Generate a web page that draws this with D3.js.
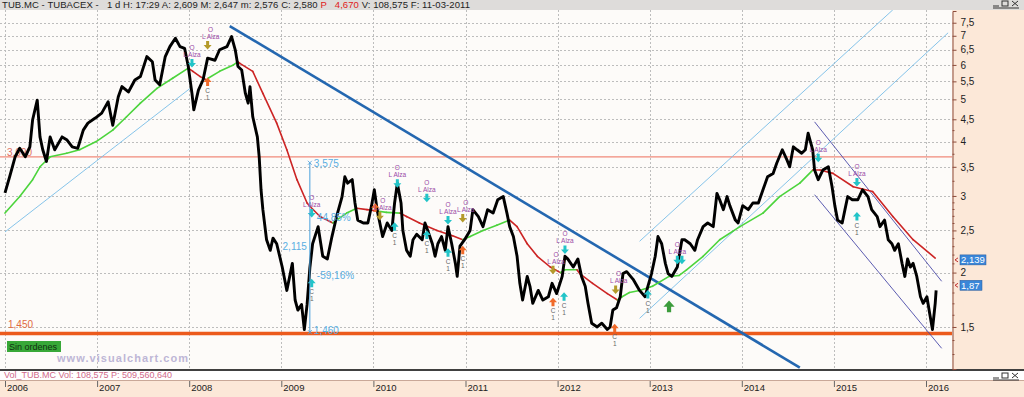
<!DOCTYPE html>
<html>
<head>
<meta charset="utf-8">
<script src="https://cdn.jsdelivr.net/npm/d3@7"></script>
<style>
body { margin: 0; background: #fff; overflow: hidden; }
text { font-family: "Liberation Sans", Arial, sans-serif; }
</style>
</head>
<body>
<script>
// TUBACEX daily chart, Visual Chart style

var W = 1024, H = 397;

var headerParts = ["TUB.MC - TUBACEX -   1 d H: 17:29 A: 2,609 M: 2,647 m: 2,576 C: 2,580 ", "P", "   4,670", " V: 108,575 F: 11-03-2011"];
var volText = "Vol_TUB.MC Vol: 108,575 P: 509,560,640";
var years = [2006, 2007, 2008, 2009, 2010, 2011, 2012, 2013, 2014, 2015, 2016];
var yTicks = [1.5, 2, 2.5, 3, 3.5, 4, 4.5, 5, 5.5, 6, 6.5, 7, 7.5];
var yMinor = [1.2, 1.3, 1.4, 1.6, 1.7, 1.8, 1.9, 2.1, 2.2, 2.3, 2.4, 2.6, 2.7, 2.8, 2.9, 3.25, 3.75, 4.25];

// [year, close]
var price = [
  [2006.00, 3.05], [2006.05, 3.32], [2006.11, 3.69], [2006.16, 3.86], [2006.22, 3.69], [2006.27, 3.89],
  [2006.30, 4.49], [2006.35, 4.98], [2006.38, 4.10], [2006.41, 3.83], [2006.45, 3.60], [2006.49, 4.10],
  [2006.54, 3.83], [2006.62, 4.10], [2006.67, 4.04], [2006.73, 3.89], [2006.79, 3.86], [2006.85, 4.25],
  [2006.90, 4.41], [2006.98, 4.53], [2007.05, 4.65], [2007.12, 4.94], [2007.17, 4.36], [2007.23, 5.07],
  [2007.27, 5.35], [2007.34, 5.20], [2007.41, 5.54], [2007.47, 5.64], [2007.54, 6.27], [2007.60, 6.10],
  [2007.63, 5.54], [2007.68, 5.40], [2007.74, 6.27], [2007.79, 6.61], [2007.85, 6.91], [2007.90, 6.61],
  [2007.95, 6.55], [2007.99, 5.95], [2008.03, 5.16], [2008.05, 4.73], [2008.10, 5.25], [2008.15, 5.54],
  [2008.20, 6.22], [2008.28, 6.15], [2008.33, 6.50], [2008.41, 6.61], [2008.46, 6.97], [2008.50, 6.50],
  [2008.53, 5.95], [2008.57, 5.84], [2008.61, 5.16], [2008.64, 4.90], [2008.66, 5.35], [2008.69, 4.56],
  [2008.74, 4.10], [2008.76, 3.69], [2008.78, 3.10], [2008.80, 2.79], [2008.84, 2.38], [2008.88, 2.25],
  [2008.91, 2.40], [2008.95, 2.33], [2009.01, 2.06], [2009.06, 1.82], [2009.12, 2.10], [2009.15, 1.73],
  [2009.18, 1.64], [2009.22, 1.69], [2009.25, 1.48], [2009.28, 1.69], [2009.31, 2.05], [2009.34, 2.33],
  [2009.40, 2.55], [2009.45, 2.18], [2009.50, 2.15], [2009.55, 2.42], [2009.60, 2.69], [2009.66, 2.99],
  [2009.69, 3.32], [2009.72, 3.21], [2009.77, 3.27], [2009.80, 2.89], [2009.83, 2.64], [2009.89, 2.60],
  [2009.94, 2.60], [2009.98, 2.85], [2010.01, 3.10], [2010.04, 2.79], [2010.07, 2.60], [2010.10, 2.42],
  [2010.15, 2.60], [2010.20, 2.50], [2010.23, 2.89], [2010.26, 3.21], [2010.30, 2.89], [2010.32, 2.50],
  [2010.36, 2.25], [2010.40, 2.18], [2010.43, 2.38], [2010.47, 2.45], [2010.53, 2.38], [2010.56, 2.60],
  [2010.59, 2.50], [2010.64, 2.33], [2010.67, 2.18], [2010.70, 2.33], [2010.74, 2.42], [2010.78, 2.25],
  [2010.81, 2.55], [2010.85, 2.33], [2010.89, 2.10], [2010.91, 1.96], [2010.94, 2.30], [2010.99, 2.38],
  [2011.05, 2.50], [2011.08, 2.79], [2011.14, 2.69], [2011.19, 2.55], [2011.24, 2.79], [2011.30, 2.74],
  [2011.35, 2.94], [2011.41, 2.99], [2011.45, 2.74], [2011.48, 2.55], [2011.52, 2.42], [2011.56, 2.18],
  [2011.59, 1.89], [2011.62, 1.73], [2011.67, 1.96], [2011.70, 1.86], [2011.73, 1.70], [2011.79, 1.82],
  [2011.84, 1.73], [2011.90, 1.76], [2011.94, 1.89], [2011.99, 1.79], [2012.05, 1.96], [2012.08, 2.18],
  [2012.11, 2.15], [2012.17, 2.06], [2012.22, 2.15], [2012.26, 1.96], [2012.30, 1.86], [2012.33, 1.70],
  [2012.37, 1.53], [2012.43, 1.50], [2012.48, 1.53], [2012.54, 1.48], [2012.57, 1.50], [2012.60, 1.64],
  [2012.64, 1.66], [2012.68, 1.76], [2012.71, 1.99], [2012.75, 2.01], [2012.82, 1.93], [2012.89, 1.82],
  [2012.95, 1.76], [2012.98, 1.86], [2013.02, 1.99], [2013.06, 2.18], [2013.09, 2.42], [2013.13, 2.33],
  [2013.17, 2.10], [2013.20, 1.99], [2013.24, 1.96], [2013.30, 2.06], [2013.35, 2.38], [2013.38, 2.38],
  [2013.44, 2.33], [2013.49, 2.25], [2013.52, 2.38], [2013.58, 2.55], [2013.63, 2.60], [2013.69, 2.55],
  [2013.73, 3.04], [2013.76, 2.94], [2013.80, 2.79], [2013.84, 2.99], [2013.87, 2.85], [2013.93, 2.64],
  [2013.96, 2.60], [2014.01, 2.85], [2014.07, 2.79], [2014.12, 2.89], [2014.18, 2.89], [2014.23, 3.10],
  [2014.28, 3.32], [2014.34, 3.38], [2014.38, 3.57], [2014.44, 3.83], [2014.49, 3.63], [2014.52, 3.50],
  [2014.56, 3.89], [2014.60, 3.83], [2014.65, 3.76], [2014.69, 3.83], [2014.72, 4.18], [2014.77, 3.83],
  [2014.79, 3.44], [2014.83, 3.27], [2014.88, 3.44], [2014.94, 3.50], [2014.98, 3.15], [2015.01, 2.85],
  [2015.04, 2.64], [2015.09, 2.60], [2015.12, 2.79], [2015.15, 2.99], [2015.20, 2.94], [2015.26, 2.94],
  [2015.31, 3.10], [2015.37, 2.99], [2015.41, 2.79], [2015.47, 2.69], [2015.50, 2.55], [2015.55, 2.64],
  [2015.59, 2.38], [2015.63, 2.33], [2015.66, 2.25], [2015.70, 2.33], [2015.74, 2.10], [2015.77, 1.96],
  [2015.80, 2.15], [2015.83, 2.06], [2015.86, 2.10], [2015.90, 1.96], [2015.94, 1.76], [2015.97, 1.70],
  [2016.01, 1.76], [2016.04, 1.61], [2016.07, 1.48], [2016.10, 1.70], [2016.11, 1.82]
];

// moving average, u = rising (green), d = falling (red)
var ma = [
  [2006.00, 2.74, "u"], [2006.16, 2.99, "u"], [2006.30, 3.27, "u"], [2006.38, 3.50, "u"], [2006.49, 3.69, "u"],
  [2006.67, 3.76, "u"], [2006.81, 3.83, "u"], [2006.99, 4.00, "u"], [2007.17, 4.25, "u"], [2007.32, 4.56, "u"],
  [2007.47, 4.90, "u"], [2007.65, 5.30, "u"], [2007.82, 5.59, "u"], [2007.99, 5.90, "u"], [2008.04, 5.80, "d"],
  [2008.12, 5.64, "d"], [2008.19, 5.54, "d"], [2008.21, 5.60, "u"], [2008.33, 5.80, "u"], [2008.48, 6.00, "u"],
  [2008.53, 6.10, "u"], [2008.55, 6.05, "d"], [2008.69, 5.80, "d"], [2008.80, 5.16, "d"], [2008.95, 4.41, "d"],
  [2009.06, 3.83, "d"], [2009.17, 3.27, "d"], [2009.28, 2.89, "d"], [2009.31, 2.84, "d"], [2009.42, 2.69, "d"],
  [2009.56, 2.60, "d"], [2009.60, 2.64, "u"], [2009.71, 2.74, "u"], [2009.82, 2.81, "u"], [2009.93, 2.79, "d"],
  [2010.04, 2.77, "d"], [2010.14, 2.75, "u"], [2010.29, 2.74, "u"], [2010.36, 2.69, "d"], [2010.50, 2.60, "d"],
  [2010.69, 2.50, "d"], [2010.86, 2.43, "d"], [2010.97, 2.38, "d"], [2011.05, 2.42, "u"], [2011.19, 2.50, "u"],
  [2011.34, 2.57, "u"], [2011.48, 2.64, "u"], [2011.56, 2.55, "d"], [2011.67, 2.33, "d"], [2011.78, 2.18, "d"],
  [2011.92, 2.06, "d"], [2012.03, 2.00, "d"], [2012.08, 2.03, "u"], [2012.21, 2.03, "u"], [2012.24, 1.99, "d"],
  [2012.38, 1.89, "d"], [2012.54, 1.79, "d"], [2012.65, 1.73, "d"], [2012.70, 1.76, "u"], [2012.78, 1.80, "u"],
  [2012.89, 1.82, "u"], [2013.03, 1.86, "u"], [2013.21, 1.96, "u"], [2013.32, 1.97, "u"], [2013.40, 2.03, "u"],
  [2013.58, 2.18, "u"], [2013.76, 2.38, "u"], [2013.98, 2.55, "u"], [2014.23, 2.74, "u"], [2014.41, 2.99, "u"],
  [2014.63, 3.21, "u"], [2014.77, 3.44, "u"], [2014.85, 3.44, "d"], [2014.99, 3.38, "d"], [2015.21, 3.15, "d"],
  [2015.42, 3.07, "d"], [2015.64, 2.69, "d"], [2015.86, 2.38, "d"], [2016.10, 2.16, "d"]
];

// trend lines [year1, price1, year2, price2]
var mainTrend = [[2008.44, 7.37, 2014.63, 1.21]];
var upChannel = [[2006.00, 2.48, 2008.03, 5.34], [2012.89, 2.36, 2015.64, 8.03], [2012.89, 1.57, 2016.24, 7.11]];
var downChannel = [[2014.79, 4.44, 2016.17, 1.91], [2014.79, 3.02, 2016.17, 1.34]];

var levels = [3.69, 1.45];
var levelLabels = ["3,690", "1,450"];

// measure tool
var measure = [2009.31, 3.575, 1.460];
var measureLabels = ["3,575", "1,460", "2,115", "-59,16%", "44,85%"];

// signals [year, price, kind]: o = open (down arrow), c = close (up arrow); a = aqua, y = olive, r = orange; "-" = no caption
var signals = [
  [2008.03, 6.06, "oa"], [2008.20, 6.67, "oy"], [2008.20, 5.48, "cr"], [2009.33, 2.74, "oa"], [2009.33, 1.89, "ca"],
  [2010.02, 2.82, "cr-"], [2010.07, 2.70, "oy"], [2010.26, 3.21, "oa"], [2010.23, 2.55, "ca"], [2010.58, 2.97, "oa"],
  [2010.58, 2.44, "ca"], [2010.81, 2.64, "oa"], [2010.97, 2.67, "oy"], [2010.81, 2.22, "ca"], [2010.97, 2.25, "cr"],
  [2012.08, 2.26, "oa"], [2011.95, 2.03, "oy"], [2011.95, 1.71, "cr"], [2012.07, 1.76, "ca"], [2012.63, 1.83, "oy"],
  [2012.62, 1.49, "cr"], [2012.98, 1.78, "ca"], [2013.30, 2.14, "oa"], [2013.35, 2.14, "oa-"], [2014.83, 3.67, "oa"],
  [2015.25, 3.23, "oa"], [2015.25, 2.69, "ca"]
];
var bigSignal = [[2013.21, 1.67]];

var lastValues = [2.139, 1.87];
var lastLabels = ["2,139", "1,87"];

var plotTop = 10, plotBottom = 369, plotRight = 952;

var x = d3.scaleLinear().domain([2006, 2016]).range([5, 926]);
var y = d3.scaleLog().domain([1.201, 7.98]).range([plotBottom, 11]);
var comma = function (v) { return String(v).replace(".", ","); };

var svg = d3.select("body").append("svg").attr("width", W).attr("height", H);

svg.append("rect").attr("width", W).attr("height", H).attr("fill", "#fdfbf9");
svg.append("rect").attr("width", W).attr("height", plotTop).attr("fill", "#dedcda");
svg.append("rect").attr("x", plotRight).attr("y", plotTop).attr("width", W - plotRight).attr("height", plotBottom - plotTop).attr("fill", "#fce8d8");
svg.append("rect").attr("x", 0).attr("y", 380).attr("width", W).attr("height", H - 380).attr("fill", "#fce8d8");
svg.append("rect").attr("x", 0).attr("y", 370).attr("width", W).attr("height", 10).attr("fill", "#ffffff");
svg.append("line").attr("x1", 0).attr("x2", W).attr("y1", 370).attr("y2", 370).attr("stroke", "#000").attr("stroke-width", 1.5);
svg.append("line").attr("x1", 0).attr("x2", W).attr("y1", 380.5).attr("y2", 380.5).attr("stroke", "#c9a898");

// header
var ht = svg.append("text").attr("x", 2).attr("y", 8).attr("font-size", 9.5).attr("fill", "#222")
  .style("white-space", "pre").attr("textLength", 468).attr("lengthAdjust", "spacing");
ht.selectAll("tspan").data(headerParts).enter().append("tspan")
  .attr("fill", function (d, i) { return (i == 1 || i == 2) ? "#e02020" : "#222"; })
  .text(function (d) { return d; });

// window buttons
function winButtons(bx, by) {
  var g = svg.append("g").attr("transform", "translate(" + bx + "," + by + ")").attr("stroke", "#333").attr("fill", "none");
  g.append("line").attr("x1", 0).attr("x2", 6).attr("y1", 6).attr("y2", 6);
  g.append("rect").attr("x", 9).attr("y", 1).attr("width", 6).attr("height", 5);
  g.append("path").attr("d", "M19,1L25,6M25,1L19,6");
  g.append("line").attr("x1", 0).attr("x2", 26).attr("y1", 8).attr("y2", 8);
}
winButtons(993, 0);
winButtons(993, 372);

svg.append("defs").append("clipPath").attr("id", "plotclip").append("rect")
  .attr("x", 0).attr("y", plotTop).attr("width", plotRight).attr("height", plotBottom - plotTop);
var plot = svg.append("g").attr("clip-path", "url(#plotclip)");

// grid
plot.selectAll(".hgrid").data(yTicks).enter().append("line")
  .attr("x1", 0).attr("x2", plotRight).attr("y1", function (d) { return Math.round(y(d)) + 0.5; }).attr("y2", function (d) { return Math.round(y(d)) + 0.5; })
  .attr("stroke", "#bdbdbd").attr("stroke-dasharray", "2,2").attr("stroke-width", 1);
plot.selectAll(".vgrid").data(years).enter().append("line")
  .attr("y1", plotTop).attr("y2", plotBottom).attr("x1", function (d) { return Math.round(x(d)) + 0.5; }).attr("x2", function (d) { return Math.round(x(d)) + 0.5; })
  .attr("stroke", "#bdbdbd").attr("stroke-dasharray", "2,2").attr("stroke-width", 1);

// horizontal levels
plot.append("line").attr("x1", 0).attr("x2", plotRight).attr("y1", y(levels[0])).attr("y2", y(levels[0]))
  .attr("stroke", "#f08a7a").attr("stroke-width", 1.2);
plot.append("line").attr("x1", 0).attr("x2", plotRight).attr("y1", y(levels[1])).attr("y2", y(levels[1]))
  .attr("stroke", "#ec5a1c").attr("stroke-width", 3.5);
plot.append("text").attr("x", 7).attr("y", y(levels[0]) - 1).attr("font-size", 10).attr("fill", "#e07060").text(levelLabels[0]);
plot.append("text").attr("x", 8).attr("y", y(levels[1]) - 5).attr("font-size", 10).attr("fill", "#e06a40").text(levelLabels[1]);

// trend lines
function drawLines(data, color, width) {
  plot.selectAll(null).data(data).enter().append("line")
    .attr("x1", function (d) { return x(d[0]); }).attr("y1", function (d) { return y(d[1]); })
    .attr("x2", function (d) { return x(d[2]); }).attr("y2", function (d) { return y(d[3]); })
    .attr("stroke", color).attr("stroke-width", width);
}
drawLines(upChannel, "#78bde8", 0.9);
drawLines(downChannel, "#4a4aa8", 0.9);
drawLines(mainTrend, "#2467b0", 2.6);

// moving average
var maLine = d3.line().x(function (d) { return x(d[0]); }).y(function (d) { return y(d[1]); });
for (var i = 1; i < ma.length; i++) {
  plot.append("path").datum([ma[i - 1], ma[i]]).attr("d", maLine)
    .attr("fill", "none").attr("stroke-linecap", "round")
    .attr("stroke", ma[i][2] == "u" ? "#4cd43c" : "#cc2424").attr("stroke-width", 1.6);
}

// price
var priceLine = d3.line().x(function (d) { return x(d[0]); }).y(function (d) { return y(d[1]); });
plot.append("path").datum(price).attr("d", priceLine)
  .attr("fill", "none").attr("stroke", "#000").attr("stroke-width", 2.9).attr("stroke-linejoin", "round");

// signals
var sigColor = { a: "#22c4c8", y: "#b49a2a", r: "#f06a2a" };
var arrowDown = "M-1.5,-4H1.5V0H4L0,4.5L-4,0H-1.5Z";
plot.selectAll(".sig").data(signals).enter().append("g")
  .attr("transform", function (d) { return "translate(" + x(d[0]) + "," + y(d[1]) + ")"; })
  .each(function (d) {
    var g = d3.select(this);
    var isOpen = d[2][0] == "o";
    g.append("path").attr("d", arrowDown).attr("fill", sigColor[d[2][1]])
      .attr("transform", isOpen ? null : "rotate(180)");
    if (d[2][2] == "-") return;
    var lines = isOpen ? ["O", "L Alza"] : ["C", "1"];
    var ys = isOpen ? [-13, -6] : [11, 18];
    var dx = (isOpen && d[2][1] == "y") ? 3 : 0;
    g.selectAll("text").data(lines).enter().append("text")
      .attr("x", dx).attr("y", function (t, k) { return ys[k]; }).attr("text-anchor", "middle")
      .attr("font-size", 6.5).attr("fill", isOpen ? "#9a4aa6" : "#666")
      .text(function (t) { return t; });
  });
plot.selectAll(".big").data(bigSignal).enter().append("path")
  .attr("transform", function (d) { return "translate(" + x(d[0]) + "," + y(d[1]) + ") rotate(180) scale(1.4)"; })
  .attr("d", arrowDown).attr("fill", "#3c9c3c");

// measure
var mx = x(measure[0]), myHi = y(measure[1]), myLo = y(measure[2]);
var mColor = "#4aa0dc";
plot.append("line").attr("x1", mx).attr("x2", mx).attr("y1", myHi).attr("y2", myLo).attr("stroke", mColor).attr("stroke-width", 1);
[myHi, myLo].forEach(function (yy) {
  plot.append("path").attr("d", "M" + (mx - 2) + "," + (yy - 2) + "L" + (mx + 2) + "," + (yy + 2) + "M" + (mx + 2) + "," + (yy - 2) + "L" + (mx - 2) + "," + (yy + 2))
    .attr("stroke", mColor).attr("stroke-width", 0.8);
});
var myMid = (myHi + myLo) / 2;
var mPos = [[mx + 4, myHi + 4, "start"], [mx + 4, myLo + 2, "start"], [mx - 3, myMid + 3, "end"], [mx + 7, myMid + 32, "start"], [mx + 7, myMid - 26, "start"]];
measureLabels.forEach(function (t, k) {
  plot.append("text").attr("x", mPos[k][0]).attr("y", mPos[k][1]).attr("text-anchor", mPos[k][2])
    .attr("font-size", 10).attr("fill", "#5aaee2").text(t);
});

// badges
svg.append("rect").attr("x", 7).attr("y", 341).attr("width", 54).attr("height", 11).attr("fill", "#38a838");
svg.append("text").attr("x", 9).attr("y", 350).attr("font-size", 9).attr("fill", "#103010").text("Sin ordenes");
svg.append("text").attr("x", 57).attr("y", 362).attr("font-size", 11).attr("font-weight", "bold")
  .attr("font-family", "DejaVu Sans").attr("textLength", 131).attr("fill", "#bdb6d6").text("www.visualchart.com");

// right axis
var yAxis = d3.axisRight(y).tickValues(yTicks).tickSize(4).tickPadding(4).tickFormat(comma);
var ga = svg.append("g").attr("transform", "translate(" + (plotRight + 0.5) + ",0)").call(yAxis);
ga.select(".domain").attr("stroke", "#8c4c3c");
ga.selectAll(".tick line").attr("stroke", "#8c4c3c");
ga.selectAll("text").attr("font-size", 10).attr("fill", "#222").attr("font-family", "Liberation Sans, Arial, sans-serif");
var gm = svg.append("g").attr("transform", "translate(" + (plotRight + 0.5) + ",0)")
  .call(d3.axisRight(y).tickValues(yMinor).tickSize(2).tickFormat(""));
gm.select(".domain").remove();
gm.selectAll(".tick line").attr("stroke", "#8c4c3c");

// last value badges
lastValues.forEach(function (v, k) {
  var yy = y(v);
  svg.append("rect").attr("x", 960).attr("y", yy - 5).attr("width", k == 0 ? 26 : 22).attr("height", 10)
    .attr("fill", "#3a86d8").attr("stroke", "#2a5a9a").attr("stroke-width", 0.5);
  svg.append("text").attr("x", 961).attr("y", yy + 3.5).attr("font-size", 9.5).attr("fill", "#fff").text(lastLabels[k]);
  svg.append("path").attr("d", "M958," + (yy - 2) + "L955," + yy + "L958," + (yy + 2)).attr("stroke", "#c03030").attr("fill", "none");
});

// volume caption
svg.append("text").attr("x", 4).attr("y", 378).attr("font-size", 9).attr("fill", "#d06a8a").text(volText);

// x axis
var xAxis = d3.axisBottom(x).tickValues(years).tickSize(6).tickPadding(0).tickFormat(d3.format("d"));
var gx = svg.append("g").attr("transform", "translate(0,381)").call(xAxis);
gx.select(".domain").remove();
gx.selectAll(".tick line").attr("stroke", "#666");
gx.selectAll("text").attr("text-anchor", "start").attr("dx", 1.5).attr("y", 3).attr("dy", "0.71em")
  .attr("font-size", 9.5).attr("fill", "#222").attr("font-family", "Liberation Sans, Arial, sans-serif");
</script>
</body>
</html>
